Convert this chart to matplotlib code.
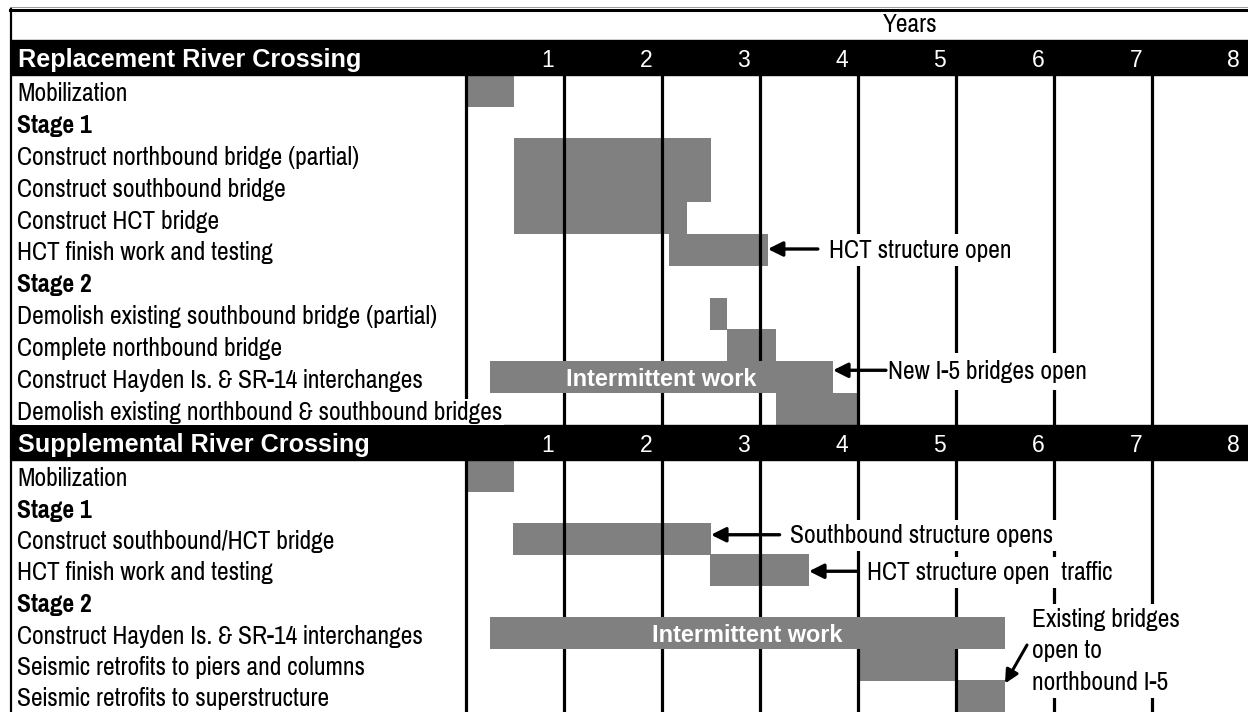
import matplotlib.pyplot as plt
from matplotlib.patches import Rectangle

# ---- data (years from start of construction) ----
years = [1, 2, 3, 4, 5, 6, 7, 8]

rep_title = "Replacement River Crossing"
rep_labels = ["Mobilization", "Stage 1", "Construct northbound bridge (partial)",
              "Construct southbound bridge", "Construct HCT bridge",
              "HCT finish work and testing", "Stage 2",
              "Demolish existing southbound bridge (partial)", "Complete northbound bridge",
              "Construct Hayden Is. & SR-14 interchanges",
              "Demolish existing northbound & southbound bridges"]
rep_start = [0.0, None, 0.49, 0.49, 0.49, 2.07, None, 2.49, 2.66, 0.245, 3.16]
rep_end = [0.49, None, 2.5, 2.5, 2.25, 3.08, None, 2.66, 3.16, 3.745, 4.0]
rep_intermittent = [False] * 9 + [True, False]

sup_title = "Supplemental River Crossing"
sup_labels = ["Mobilization", "Stage 1", "Construct southbound/HCT bridge",
              "HCT finish work and testing", "Stage 2",
              "Construct Hayden Is. & SR-14 interchanges",
              "Seismic retrofits to piers and columns",
              "Seismic retrofits to superstructure"]
sup_start = [0.0, None, 0.48, 2.49, None, 0.245, 3.99, 4.99]
sup_end = [0.49, None, 2.5, 3.5, None, 5.5, 4.99, 5.5]
sup_intermittent = [False] * 5 + [True, False, False]

# ---- layout (pixels) ----
W, H = 1248, 712
X0, PPY = 466, 98          # pixel of year 0, pixels per year
GRAY = "#808080"
NARROW = ["Pragati Narrow", "DejaVu Sans"]
WIDE = ["Liberation Sans", "DejaVu Sans"]
FS = 20


def X(px):
    return (px - X0) / PPY


fig = plt.figure(figsize=(W / 100, H / 100), dpi=100)
ax = fig.add_axes([0, 0, 1, 1])
ax.set_xlim(X(0), X(W))
ax.set_ylim(H, 0)
ax.axis("off")

# outer frame
ax.plot([X(10), X(W)], [7, 7], color="#999999", lw=0.7)
ax.plot([X(10), X(W)], [9.5, 9.5], color="black", lw=2.2)
ax.plot([X(11), X(11)], [9, H], color="black", lw=1.6)
ax.text(X(910), 32, "Years", family=NARROW, fontsize=FS, ha="center", va="baseline")


def section(title, labels, starts, ends, interm, band_top, band_bot, top, rh):
    ax.add_patch(Rectangle((X(11), band_top), X(W) - X(11), band_bot - band_top,
                           color="black", zorder=2))
    ax.text(X(18), band_bot - 8, title, family=WIDE, weight="bold", fontsize=18.2,
            color="white", ha="left", va="baseline", zorder=3)
    for y in years:
        ax.text(y - 0.165, band_bot - 8, str(y), family=WIDE, fontsize=16.5,
                color="white", ha="center", va="baseline", zorder=3)
    bottom = top + rh * len(labels)
    ax.vlines(range(0, 8), top, bottom, color="black", lw=2.3, zorder=2)
    for i, lab in enumerate(labels):
        y0 = top + i * rh
        ax.text(X(17), y0 + rh - 5.5, lab, family=NARROW, fontsize=FS,
                weight="bold" if lab.startswith("Stage") else "normal",
                ha="left", va="baseline", zorder=2.5,
                bbox=dict(fc="white", ec="none", pad=1.5))
        if starts[i] is None:
            continue
        z = 3 if interm[i] else 1
        ax.barh(y0 + rh / 2, ends[i] - starts[i], left=starts[i], height=rh + 0.4,
                color=GRAY, lw=0, zorder=z)
        if interm[i]:
            ax.text((starts[i] + ends[i]) / 2, y0 + rh / 2 + 8.5, "Intermittent work",
                    family=WIDE, weight="bold", fontsize=16.9, color="white",
                    ha="center", va="baseline", zorder=4)
    return top, rh


def note(text, y, head, tail, tx, pad=3):
    ax.annotate("", xy=(head, y), xytext=(tail, y),
                arrowprops=dict(arrowstyle="-|>", color="black", lw=2.4,
                                mutation_scale=22, shrinkA=0, shrinkB=0), zorder=6)
    ax.text(tx, y + 8.5, text, family=NARROW, fontsize=FS, ha="left",
            va="baseline", zorder=5, bbox=dict(fc="white", ec="none", pad=pad))


t1, h1 = section(rep_title, rep_labels, rep_start, rep_end, rep_intermittent,
                 40, 75, 75, 350 / 11)
t2, h2 = section(sup_title, sup_labels, sup_start, sup_end, sup_intermittent,
                 425, 460, 460, 31.5)

# call-outs
note("HCT structure open", t1 + 5.5 * h1 - 1, rep_end[5], rep_end[5] + 0.51, X(829))
note("New I-5 bridges open", t1 + 9.5 * h1 - 7, rep_end[9], rep_end[9] + 0.54, X(888), pad=5)
note("Southbound structure opens", t2 + 2.5 * h2 - 4, sup_end[2], sup_end[2] + 0.7, X(790))
note("HCT structure open  traffic", t2 + 3.5 * h2 + 1, sup_end[3], sup_end[3] + 0.49, X(867))

ax.annotate("", xy=(sup_end[7], t2 + 7 * h2 + 3), xytext=(X(1027), t2 + 6 * h2 - 4),
            arrowprops=dict(arrowstyle="-|>", color="black", lw=2.2,
                            mutation_scale=20, shrinkA=0, shrinkB=0), zorder=6)
ax.text(X(1032), t2 + 6 * h2 + 2, "Existing bridges\nopen to\nnorthbound I-5",
        family=NARROW, fontsize=FS, ha="left", va="center", linespacing=1.45,
        zorder=5, bbox=dict(fc="white", ec="none", pad=3))

fig.savefig("out.png", dpi=100)
